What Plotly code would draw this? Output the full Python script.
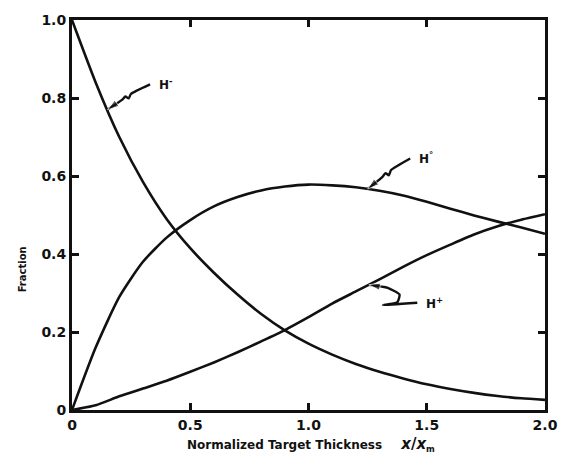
import numpy as np
import plotly.graph_objects as go

# Normalized target thickness x / x_m
thickness = [0.0, 0.1, 0.2, 0.3, 0.4, 0.5, 0.6, 0.7, 0.8, 0.9, 1.0,
             1.1, 1.2, 1.3, 1.4, 1.5, 1.6, 1.7, 1.8, 1.9, 2.0]

# Charge-state fractions
frac_hminus = [1.0, 0.84, 0.70, 0.585, 0.49, 0.415, 0.352, 0.296, 0.246, 0.204, 0.17,
               0.142, 0.118, 0.098, 0.081, 0.066, 0.054, 0.044, 0.036, 0.030, 0.026]
frac_hzero = [0.0, 0.16, 0.29, 0.38, 0.442, 0.487, 0.522, 0.546, 0.563, 0.573, 0.578,
              0.576, 0.571, 0.562, 0.550, 0.534, 0.516, 0.499, 0.483, 0.468, 0.452]
frac_hplus = [0.0, 0.012, 0.035, 0.055, 0.075, 0.098, 0.122, 0.148, 0.176, 0.205, 0.238,
              0.273, 0.304, 0.335, 0.367, 0.397, 0.424, 0.450, 0.471, 0.488, 0.502]

x_ticks = [0, 0.5, 1.0, 1.5, 2.0]
x_tick_text = ["0", "0.5", "1.0", "1.5", "2.0"]
y_ticks = [0, 0.2, 0.4, 0.6, 0.8, 1.0]
y_tick_text = ["0", "0.2", "0.4", "0.6", "0.8", "1.0"]

# Curve labels: (text, curve, x where the pointer touches, label x, label y)
curve_labels = [
    ("H<sup>-</sup>", frac_hminus, 0.15, 0.36, 0.835),
    ("H<sup>°</sup>", frac_hzero, 1.25, 1.46, 0.645),
    ("H<sup>+</sup>", frac_hplus, 1.255, 1.49, 0.275),
]

FONT = "DejaVu Sans"
ink = "#111111"

fig = go.Figure()
for ys in (frac_hminus, frac_hzero, frac_hplus):
    fig.add_trace(go.Scatter(
        x=thickness, y=ys, mode="lines",
        line=dict(color=ink, width=2.6, shape="spline", smoothing=0.6),
        showlegend=False, hoverinfo="skip",
    ))

# Pointers from each label to its curve, ending in an arrowhead on the curve
for text, ys, xt, lx, ly in curve_labels:
    yt = float(np.interp(xt, thickness, ys))
    if ly > yt:
        # bolt shaped pointer running down-left from the label
        dx, dy = lx - 0.03 - xt, ly - yt
        px = [lx - 0.03, xt + 0.55 * dx, xt + 0.50 * dx, xt + 0.42 * dx, xt + 0.35 * dx, xt]
        py = [ly, yt + 0.62 * dy, yt + 0.45 * dy, yt + 0.52 * dy, yt + 0.40 * dy, yt]
    else:
        # hooked pointer curling back up to the curve
        px = [lx - 0.03, xt + 0.06, xt + 0.12, xt + 0.13, xt + 0.08, xt]
        py = [ly, yt - 0.052, yt - 0.045, yt - 0.025, yt - 0.008, yt]
    fig.add_trace(go.Scatter(
        x=px, y=py, mode="lines+markers",
        line=dict(color=ink, width=2.4, shape="spline", smoothing=0.5),
        marker=dict(symbol="arrow", angleref="previous", color=ink,
                    size=[0] * (len(px) - 1) + [12]),
        showlegend=False, hoverinfo="skip",
    ))
    fig.add_annotation(
        x=lx, y=ly, xref="x", yref="y", text="<b>" + text + "</b>",
        showarrow=False, xanchor="left", yanchor="middle",
        font=dict(family=FONT, size=12, color=ink),
    )

axis_common = dict(
    showline=True, linecolor=ink, linewidth=3, mirror="ticks",
    ticks="inside", ticklen=7, tickwidth=2.5, tickcolor=ink,
    showgrid=False, zeroline=False,
    tickfont=dict(family=FONT, size=14, color=ink, weight="bold"),
)

fig.update_xaxes(range=[0, 2.0], tickvals=x_ticks, ticktext=x_tick_text, **axis_common)
fig.update_yaxes(range=[0, 1.0], tickvals=y_ticks, ticktext=y_tick_text, **axis_common)

fig.add_annotation(
    x=-0.12, y=0.36, xref="paper", yref="paper", text="<b>Fraction</b>",
    textangle=-90, showarrow=False,
    font=dict(family=FONT, size=10, color=ink),
)
fig.add_annotation(
    x=0.505, y=-0.088, xref="paper", yref="paper",
    text="<b>Normalized Target Thickness</b>     "
         "<b><span style='font-size:15px'><i>x</i>/<i>x</i></span><sub>m</sub></b>",
    showarrow=False, yanchor="middle",
    font=dict(family=FONT, size=12, color=ink),
)

fig.update_layout(
    width=572, height=465,
    margin=dict(l=72, r=27, t=12, b=55),
    paper_bgcolor="white", plot_bgcolor="white",
)

fig.write_html("out.html")
